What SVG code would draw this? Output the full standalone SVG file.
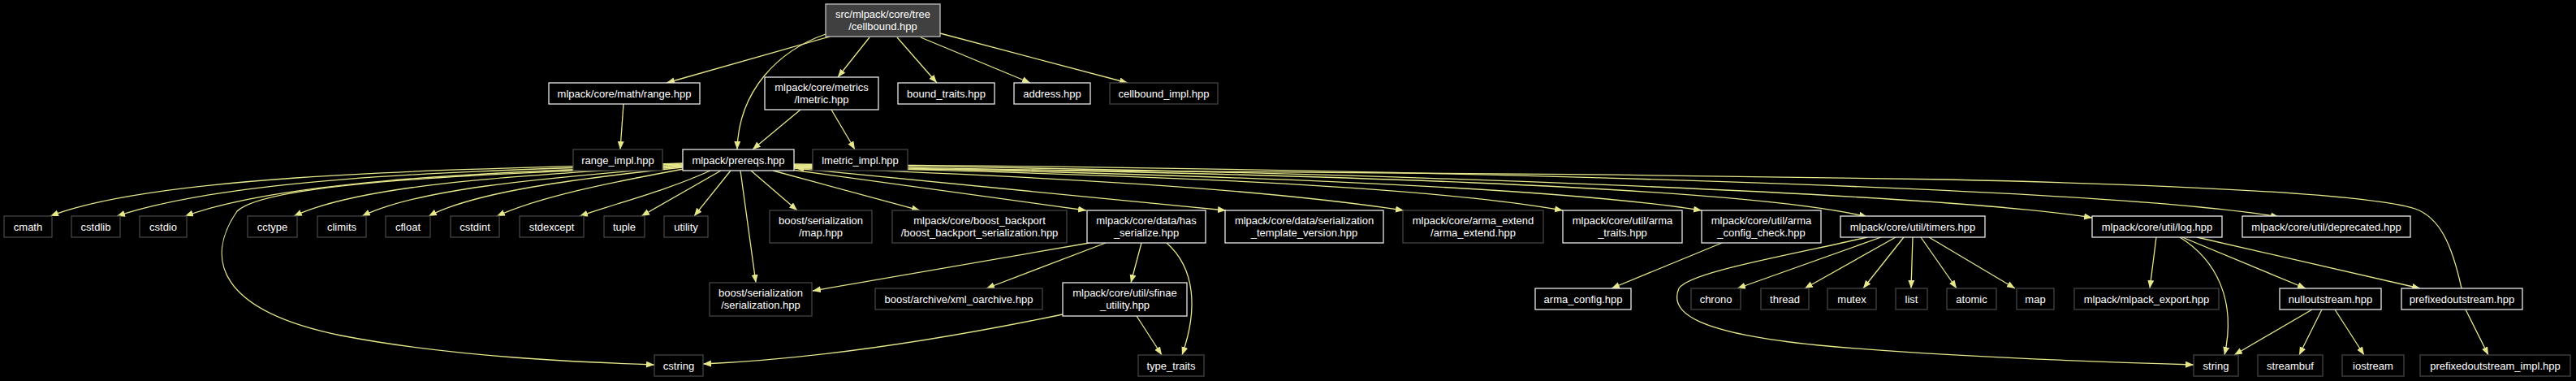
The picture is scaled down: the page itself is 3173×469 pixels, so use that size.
<svg xmlns="http://www.w3.org/2000/svg" width="3173" height="469" viewBox="0 0 3173 469">
<style>
.bg{fill:#000}
.doc rect{fill:#000;stroke:#e8e8e8;stroke-width:1.3}
.undoc rect{fill:#000;stroke:#444;stroke-width:1.3}
.root rect{fill:#404040;stroke:#bfbfbf;stroke-width:1.3}
text{font-family:"Liberation Sans",Arial,sans-serif;font-size:13px;fill:#fff;text-anchor:middle}
#edges path{fill:none;stroke:#e6e68a;stroke-width:1.3;marker-end:url(#ah)}
</style>
<defs>
<marker id="ah" markerUnits="userSpaceOnUse" markerWidth="11" markerHeight="9" refX="10" refY="4" orient="auto">
<path d="M0,0 L10,4 L0,8 z" fill="#e6e68a"/>
</marker>
</defs>
<rect class="bg" x="0" y="0" width="3173" height="469"/>
<g id="edges">
<path d="M1022,45 L821,102"/>
<path d="M1017,42 C960,62 910,110 908,184"/>
<path d="M1071,46 L1032,95"/>
<path d="M1105,46 L1154,102"/>
<path d="M1134,46 L1269,102"/>
<path d="M1158,41 L1389,102"/>
<path d="M768,128 L764,184"/>
<path d="M986,135 L927,184"/>
<path d="M1024,135 L1053,184"/>
<path d="M841,201 C600,208 200,212 62,266"/>
<path d="M841,202 C620,210 300,214 144,266"/>
<path d="M841,203 C640,212 360,218 228,266"/>
<path d="M841,204 C660,215 450,225 362,266"/>
<path d="M841,205 C690,218 520,230 446,266"/>
<path d="M841,206 C710,220 585,236 528,266"/>
<path d="M842,208 C750,225 665,242 612,266"/>
<path d="M875,210 C820,235 760,250 714,266"/>
<path d="M888,210 L790,266"/>
<path d="M900,210 L855,266"/>
<path d="M841,205 C600,214 330,224 292,260 C252,318 268,382 420,413 C560,440 720,446 806,449"/>
<path d="M912,210 L931,348"/>
<path d="M925,210 L982,259"/>
<path d="M952,210 L1133,259"/>
<path d="M975,209 L1338,259"/>
<path d="M978,207 L1510,259"/>
<path d="M978,206 C1300,218 1550,232 1729,259"/>
<path d="M978,205 C1400,215 1750,228 1925,259"/>
<path d="M978,204 C1450,214 1900,228 2096,259"/>
<path d="M978,204 C1600,213 2150,230 2300,267"/>
<path d="M978,203 C1700,210 2400,240 2577,268"/>
<path d="M978,202 C1800,208 2600,232 2807,267"/>
<path d="M3032,355 C3020,300 3005,268 2975,257 C2920,240 2700,228 2400,221 C1900,212 1300,210 980,207"/>
<path d="M1342,299 L1001,358"/>
<path d="M1362,299 L1215,355"/>
<path d="M1406,299 L1393,348"/>
<path d="M1437,299 C1472,330 1476,380 1456,437"/>
<path d="M1400,389 L1431,437"/>
<path d="M1309,387 C1150,420 1000,442 866,448"/>
<path d="M2121,299 L1985,355"/>
<path d="M2300,292 C2200,315 2080,335 2068,355 C2055,385 2090,410 2240,425 C2400,440 2600,446 2702,449"/>
<path d="M2317,292 L2140,355"/>
<path d="M2335,292 L2223,355"/>
<path d="M2345,292 L2295,355"/>
<path d="M2356,292 L2354,355"/>
<path d="M2366,292 L2410,355"/>
<path d="M2376,292 L2482,355"/>
<path d="M2656,292 L2648,355"/>
<path d="M2685,292 C2730,320 2755,370 2740,437"/>
<path d="M2688,292 L2840,355"/>
<path d="M2706,292 L2981,355"/>
<path d="M2848,381 L2752,437"/>
<path d="M2860,381 L2832,437"/>
<path d="M2876,381 L2912,437"/>
<path d="M3037,381 L3065,437"/>
</g>
<g id="n_cellbound" class="root"><rect x="1017" y="5" width="141" height="40"/><text x="1087.5" y="22">src/mlpack/core/tree</text><text x="1087.5" y="37">/cellbound.hpp</text></g>
<g id="n_range" class="doc"><rect x="676" y="102" width="186" height="26"/><text x="769" y="119.5">mlpack/core/math/range.hpp</text></g>
<g id="n_lmetric" class="doc"><rect x="942" y="95" width="140" height="40"/><text x="1012" y="111.5">mlpack/core/metrics</text><text x="1012" y="126.5">/lmetric.hpp</text></g>
<g id="n_bound_traits" class="doc"><rect x="1106" y="102" width="119" height="26"/><text x="1165.5" y="119.5">bound_traits.hpp</text></g>
<g id="n_address" class="doc"><rect x="1249" y="102" width="94" height="26"/><text x="1296" y="119.5">address.hpp</text></g>
<g id="n_cellbound_impl" class="undoc"><rect x="1367" y="102" width="133" height="26"/><text x="1433.5" y="119.5">cellbound_impl.hpp</text></g>
<g id="n_range_impl" class="undoc"><rect x="706" y="184" width="110" height="26"/><text x="761" y="201.5">range_impl.hpp</text></g>
<g id="n_prereqs" class="doc"><rect x="841" y="184" width="137" height="26"/><text x="909.5" y="201.5">mlpack/prereqs.hpp</text></g>
<g id="n_lmetric_impl" class="undoc"><rect x="1001" y="184" width="117" height="26"/><text x="1059.5" y="201.5">lmetric_impl.hpp</text></g>
<g id="n_cmath" class="undoc"><rect x="5" y="266" width="59" height="26"/><text x="34.5" y="283.5">cmath</text></g>
<g id="n_cstdlib" class="undoc"><rect x="88" y="266" width="60" height="26"/><text x="118" y="283.5">cstdlib</text></g>
<g id="n_cstdio" class="undoc"><rect x="172" y="266" width="58" height="26"/><text x="201" y="283.5">cstdio</text></g>
<g id="n_cctype" class="undoc"><rect x="305" y="266" width="61" height="26"/><text x="335.5" y="283.5">cctype</text></g>
<g id="n_climits" class="undoc"><rect x="391" y="266" width="60" height="26"/><text x="421" y="283.5">climits</text></g>
<g id="n_cfloat" class="undoc"><rect x="475" y="266" width="55" height="26"/><text x="502.5" y="283.5">cfloat</text></g>
<g id="n_cstdint" class="undoc"><rect x="555" y="266" width="60" height="26"/><text x="585" y="283.5">cstdint</text></g>
<g id="n_stdexcept" class="undoc"><rect x="640" y="266" width="79" height="26"/><text x="679.5" y="283.5">stdexcept</text></g>
<g id="n_tuple" class="undoc"><rect x="744" y="266" width="50" height="26"/><text x="769" y="283.5">tuple</text></g>
<g id="n_utility" class="undoc"><rect x="818" y="266" width="54" height="26"/><text x="845" y="283.5">utility</text></g>
<g id="n_map_hpp" class="undoc"><rect x="948" y="259" width="126" height="40"/><text x="1011" y="276">boost/serialization</text><text x="1011" y="291">/map.hpp</text></g>
<g id="n_backport" class="undoc"><rect x="1099" y="259" width="215" height="40"/><text x="1206.5" y="276">mlpack/core/boost_backport</text><text x="1206.5" y="291">/boost_backport_serialization.hpp</text></g>
<g id="n_has_serialize" class="doc"><rect x="1339" y="259" width="146" height="40"/><text x="1412" y="276">mlpack/core/data/has</text><text x="1412" y="291">_serialize.hpp</text></g>
<g id="n_template_version" class="doc"><rect x="1509" y="259" width="195" height="40"/><text x="1606.5" y="276">mlpack/core/data/serialization</text><text x="1606.5" y="291">_template_version.hpp</text></g>
<g id="n_arma_extend" class="undoc"><rect x="1728" y="259" width="173" height="40"/><text x="1814.5" y="276">mlpack/core/arma_extend</text><text x="1814.5" y="291">/arma_extend.hpp</text></g>
<g id="n_arma_traits" class="doc"><rect x="1925" y="259" width="147" height="40"/><text x="1998.5" y="276">mlpack/core/util/arma</text><text x="1998.5" y="291">_traits.hpp</text></g>
<g id="n_arma_config_check" class="doc"><rect x="2096" y="259" width="147" height="40"/><text x="2169.5" y="276">mlpack/core/util/arma</text><text x="2169.5" y="291">_config_check.hpp</text></g>
<g id="n_timers" class="doc"><rect x="2267" y="266" width="178" height="26"/><text x="2356" y="283.5">mlpack/core/util/timers.hpp</text></g>
<g id="n_log" class="doc"><rect x="2577" y="266" width="160" height="26"/><text x="2657" y="283.5">mlpack/core/util/log.hpp</text></g>
<g id="n_deprecated" class="doc"><rect x="2762" y="266" width="207" height="26"/><text x="2865.5" y="283.5">mlpack/core/util/deprecated.hpp</text></g>
<g id="n_serialization" class="undoc"><rect x="874" y="348" width="126" height="41"/><text x="937" y="365">boost/serialization</text><text x="937" y="380">/serialization.hpp</text></g>
<g id="n_xml_oarchive" class="undoc"><rect x="1078" y="355" width="206" height="26"/><text x="1181" y="372.5">boost/archive/xml_oarchive.hpp</text></g>
<g id="n_sfinae" class="doc"><rect x="1309" y="348" width="153" height="41"/><text x="1385.5" y="365">mlpack/core/util/sfinae</text><text x="1385.5" y="380">_utility.hpp</text></g>
<g id="n_arma_config" class="doc"><rect x="1891" y="355" width="118" height="26"/><text x="1950" y="372.5">arma_config.hpp</text></g>
<g id="n_chrono" class="undoc"><rect x="2083" y="355" width="61" height="26"/><text x="2113.5" y="372.5">chrono</text></g>
<g id="n_thread" class="undoc"><rect x="2169" y="355" width="59" height="26"/><text x="2198.5" y="372.5">thread</text></g>
<g id="n_mutex" class="undoc"><rect x="2251" y="355" width="60" height="26"/><text x="2281" y="372.5">mutex</text></g>
<g id="n_list" class="undoc"><rect x="2335" y="355" width="39" height="26"/><text x="2354.5" y="372.5">list</text></g>
<g id="n_atomic" class="undoc"><rect x="2398" y="355" width="61" height="26"/><text x="2428.5" y="372.5">atomic</text></g>
<g id="n_map" class="undoc"><rect x="2484" y="355" width="46" height="26"/><text x="2507" y="372.5">map</text></g>
<g id="n_mlpack_export" class="undoc"><rect x="2555" y="355" width="178" height="26"/><text x="2644" y="372.5">mlpack/mlpack_export.hpp</text></g>
<g id="n_nulloutstream" class="doc"><rect x="2808" y="355" width="125" height="26"/><text x="2870.5" y="372.5">nulloutstream.hpp</text></g>
<g id="n_prefixedoutstream" class="doc"><rect x="2958" y="355" width="149" height="26"/><text x="3032.5" y="372.5">prefixedoutstream.hpp</text></g>
<g id="n_cstring" class="undoc"><rect x="806" y="437" width="60" height="26"/><text x="836" y="454.5">cstring</text></g>
<g id="n_type_traits" class="undoc"><rect x="1402" y="437" width="81" height="26"/><text x="1442.5" y="454.5">type_traits</text></g>
<g id="n_string" class="undoc"><rect x="2702" y="437" width="55" height="26"/><text x="2729.5" y="454.5">string</text></g>
<g id="n_streambuf" class="undoc"><rect x="2781" y="437" width="80" height="26"/><text x="2821" y="454.5">streambuf</text></g>
<g id="n_iostream" class="undoc"><rect x="2885" y="437" width="76" height="26"/><text x="2923" y="454.5">iostream</text></g>
<g id="n_prefixedoutstream_impl" class="undoc"><rect x="2981" y="437" width="185" height="26"/><text x="3073.5" y="454.5">prefixedoutstream_impl.hpp</text></g>
</svg>
